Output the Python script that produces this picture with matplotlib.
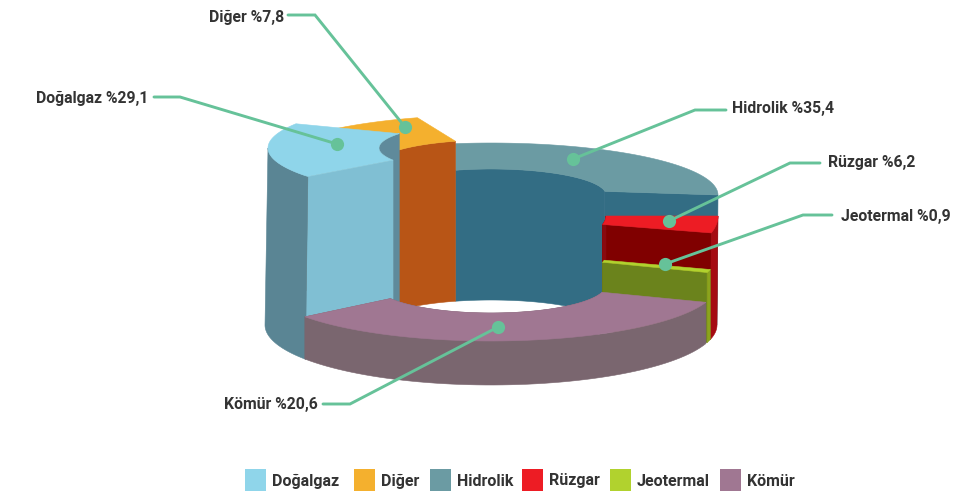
import numpy as np
import matplotlib
matplotlib.use("Agg")
import matplotlib.pyplot as plt
from matplotlib.patches import Rectangle, Polygon

plt.rcParams['font.family'] = ['Roboto', 'DejaVu Sans']

# Datos del grafico
names = ["Doğalgaz", "Diğer", "Hidrolik", "Rüzgar", "Jeotermal", "Kömür"]
shares = ["29,1", "7,8", "35,4", "6,2", "0,9", "20,6"]

# Lo que se lee del dibujo: altura de cada porcion y sus angulos (grados)
heights = [177, 160, 130, 109, 70, 40]
outer_from = [151, 109, 99, 0, -14, -18]
outer_to = [214.8, 145, 0, -14, -17, -145.4]
inner_from = [145, 108, 108, 0, -10, -15]
inner_to = [209, 145, 8, -14, -14, -151]

top_colors = ["#8fd5ea", "#f4b02e", "#6b9ba3", "#ed1c24", "#b1d22e", "#a07792"]
wall_colors = ["#5a8594", "#b85516", "#336d84", "#a50b12", "#8ba41d", "#7a666f"]
face_colors = ["#80bfd3", "#b85516", "#336d84", "#800000", "#6b831c", "#7a666f"]
inner_colors = ["#5f8a9b", "#b85516", "#336d84", "#8a0a10", "#6b831c", "#7a666f"]

# Elipses de cada nivel
cx, cy = 491, 325
floor_rx, floor_ry = 226, 60
hole_rx = [112, 115, 115, 115, 115, 115]
hole_floor_ry = 25
top_rx = [223, 226, 227, 227, 226, 226]
top_ry = [50, 50, 52, 70, 60, 56]

# Leyendas con lineas guia: texto, alineacion y recorrido de la linea
callouts = [
    (0, 148, 98, "right", [(154, 97), (180, 97), (337, 144)]),
    (1, 284, 17, "right", [(288, 15), (315, 15), (405, 127)]),
    (2, 732, 109, "left", [(726, 110), (695, 110), (573, 159)]),
    (3, 828, 163, "left", [(820, 163), (790, 163), (669, 221)]),
    (4, 841, 216, "left", [(832, 215), (803, 215), (665, 264)]),
    (5, 318, 405, "right", [(323, 404), (350, 404), (498, 327)]),
]
legend_x = [245, 354, 430, 522, 610, 720]

fig = plt.figure(figsize=(9.66, 4.93), dpi=100)
ax = fig.add_axes([0, 0, 1, 1])
ax.set_xlim(0, 966)
ax.set_ylim(493, 0)
ax.axis("off")


def arc(t0, t1, rx, ry, y0):
    t = np.radians(np.linspace(t0, t1, 60))
    return np.column_stack([cx + rx * np.cos(t), y0 - ry * np.sin(t)])


def fill(points, color):
    ax.add_patch(Polygon(points, closed=True, facecolor=color, edgecolor=color, linewidth=0.4))


def outer_wall(i, t0, t1):
    up = arc(t0, t1, top_rx[i], top_ry[i], cy - heights[i])
    down = arc(t1, t0, floor_rx, floor_ry, cy)
    fill(np.vstack([up, down]), wall_colors[i])


def inner_wall(i):
    up = arc(inner_from[i], inner_to[i], hole_rx[i], top_ry[i] / 2, cy - heights[i])
    down = arc(inner_to[i], inner_from[i], hole_rx[i], hole_floor_ry, cy)
    fill(np.vstack([up, down]), inner_colors[i])


def end_face(i):
    top_in = arc(inner_to[i], inner_to[i], hole_rx[i], top_ry[i] / 2, cy - heights[i])[0]
    top_out = arc(outer_to[i], outer_to[i], top_rx[i], top_ry[i], cy - heights[i])[0]
    low_out = arc(outer_to[i], outer_to[i], floor_rx, floor_ry, cy)[0]
    low_in = arc(inner_to[i], inner_to[i], hole_rx[i], hole_floor_ry, cy)[0]
    fill([top_in, top_out, low_out, low_in], face_colors[i])


def top_surface(i):
    a = arc(outer_from[i], outer_to[i], top_rx[i], top_ry[i], cy - heights[i])
    b = arc(inner_to[i], inner_from[i], hole_rx[i], top_ry[i] / 2, cy - heights[i])
    fill(np.vstack([a, b]), top_colors[i])


# Dibujar de atras hacia adelante
visible_walls = {0: (180, 214.8), 3: (0, -14), 4: (-14, -17), 5: (-18, -145.4)}
for i in [2, 1, 0, 3, 4, 5]:
    inner_wall(i)
    end_face(i)
    if names[i] == "Rüzgar":
        inner_wall(i)
    if i in visible_walls:
        outer_wall(i, *visible_walls[i])
    top_surface(i)

# Lineas guia y textos
line_color = "#66c299"
text_color = "#333333"
for i, tx, ty, ha, path in callouts:
    xs, ys = zip(*path)
    ax.plot(xs, ys, color=line_color, lw=2.1, solid_capstyle="round", solid_joinstyle="miter", zorder=5)
    ax.plot(xs[-1], ys[-1], "o", color=line_color, ms=9.5, mew=0, zorder=6)
    ax.text(tx, ty, f"{names[i]} %{shares[i]}", ha=ha, va="center", fontsize=11.3,
            fontweight="bold", color=text_color, zorder=7)

# Leyenda inferior
for i, x in enumerate(legend_x):
    ax.add_patch(Rectangle((x, 469), 21, 22, facecolor=top_colors[i], edgecolor="none"))
    ax.text(x + 27, 481, names[i], ha="left", va="center", fontsize=11.5,
            fontweight="bold", color=text_color)

fig.savefig("out.png", dpi=100)
